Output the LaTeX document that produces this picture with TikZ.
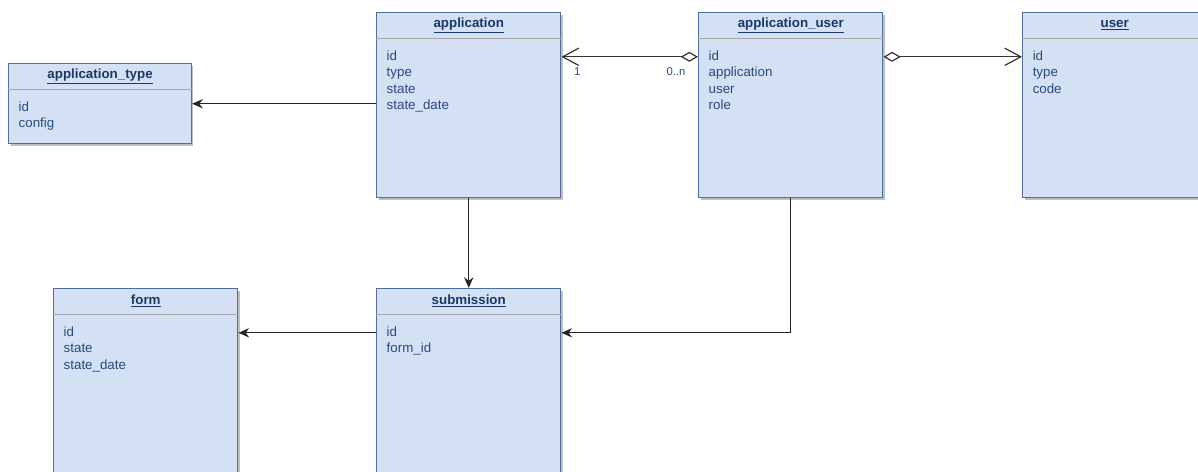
\documentclass[tikz,border=0pt]{standalone}
\usepackage{fontspec}
\setmainfont{Liberation Sans}
\usetikzlibrary{positioning, arrows.meta, shadows}

\definecolor{entityfill}{RGB}{212,225,245}
\definecolor{entityline}{RGB}{78,110,156}
\definecolor{titletext}{RGB}{26,56,104}
\definecolor{fieldtext}{RGB}{40,74,124}

\tikzset{
  entity/.style={draw=entityline, fill=entityfill, line width=1.1pt, anchor=north west,
    minimum width=138pt, inner sep=0pt,
    drop shadow={shadow xshift=1.5pt, shadow yshift=-1.5pt, fill=black, opacity=0.25}},
  entitytitle/.style={minimum width=138pt, minimum height=19.5pt, inner sep=0pt,
    text=titletext, font=\fontsize{10}{12}\selectfont\bfseries},
  headsep/.style={draw=black!35, line width=0.8pt},
  field/.style={text width=118pt, align=left, inner sep=0pt, text height=7.5pt,
    text depth=2.5pt, minimum height=12pt, text=fieldtext, font=\fontsize{10}{12}\selectfont},
  fk/.style={draw=black!85, line width=0.9pt, -{Stealth[length=8pt, width=7pt]}},
  assoc/.style={draw=black!80, line width=0.9pt,
    {Diamond[open, length=13pt, width=7.5pt]}-{Straight Barb[length=12pt, width=13pt]}},
  mult/.style={text=fieldtext, font=\fontsize{8.5}{10}\selectfont, inner sep=0pt}
}

\begin{document}
\begin{tikzpicture}[x=0.75pt, y=-0.75pt]
  \useasboundingbox (0,0) rectangle (1198,471);
  \clip (0,0) rectangle (1198,471);

  % tables
  \node[entity, minimum width=137pt, minimum height=60pt] (atype) at (8,63) {};
  \node[entitytitle, minimum width=137pt, below=0pt of atype.north] (atype-title) {\underline{application\_type}};
  \draw[headsep] (atype-title.south west) -- (atype-title.south east);
  \node[field, below right=7.5pt and 7.5pt of atype-title.south west] (atype-id) {id};
  \node[field, below=0pt of atype-id] (atype-config) {config};

  \node[entity, minimum height=138.75pt] (application) at (376,12) {};
  \node[entitytitle, below=0pt of application.north] (application-title) {\underline{application}};
  \draw[headsep] (application-title.south west) -- (application-title.south east);
  \node[field, below right=7.5pt and 7.5pt of application-title.south west] (application-id) {id};
  \node[field, below=0pt of application-id] (application-type) {type};
  \node[field, below=0pt of application-type] (application-state) {state};
  \node[field, below=0pt of application-state] (application-date) {state\_date};

  \node[entity, minimum height=138.75pt] (appuser) at (698,12) {};
  \node[entitytitle, below=0pt of appuser.north] (appuser-title) {\underline{application\_user}};
  \draw[headsep] (appuser-title.south west) -- (appuser-title.south east);
  \node[field, below right=7.5pt and 7.5pt of appuser-title.south west] (appuser-id) {id};
  \node[field, below=0pt of appuser-id] (appuser-application) {application};
  \node[field, below=0pt of appuser-application] (appuser-user) {user};
  \node[field, below=0pt of appuser-user] (appuser-role) {role};

  \node[entity, minimum height=138.75pt] (user) at (1022,12) {};
  \node[entitytitle, below=0pt of user.north] (user-title) {\underline{user}};
  \draw[headsep] (user-title.south west) -- (user-title.south east);
  \node[field, below right=7.5pt and 7.5pt of user-title.south west] (user-id) {id};
  \node[field, below=0pt of user-id] (user-type) {type};
  \node[field, below=0pt of user-type] (user-code) {code};

  \node[entity, minimum height=150pt] (form) at (53,288) {};
  \node[entitytitle, below=0pt of form.north] (form-title) {\underline{form}};
  \draw[headsep] (form-title.south west) -- (form-title.south east);
  \node[field, below right=7.5pt and 7.5pt of form-title.south west] (form-id) {id};
  \node[field, below=0pt of form-id] (form-state) {state};
  \node[field, below=0pt of form-state] (form-date) {state\_date};

  \node[entity, minimum height=150pt] (submission) at (376,288) {};
  \node[entitytitle, below=0pt of submission.north] (submission-title) {\underline{submission}};
  \draw[headsep] (submission-title.south west) -- (submission-title.south east);
  \node[field, below right=7.5pt and 7.5pt of submission-title.south west] (submission-id) {id};
  \node[field, below=0pt of submission-id] (submission-formid) {form\_id};

  % relations
  \draw[fk] (application.west |- atype.east) -- (atype.east);
  \draw[fk] (application.south) -- (submission.north);
  \draw[fk] (submission.west |- submission-id) -- (form.east |- submission-id);
  \draw[fk] (appuser.south) |- (submission.east |- submission-id);
  \draw[assoc] (appuser.west |- appuser-id) -- (application.east |- appuser-id)
    node[mult, pos=0, below left=8pt and 9pt] {0..n}
    node[mult, pos=1, below right=8pt and 9pt] {1};
  \draw[assoc] (appuser.east |- appuser-id) -- (user.west |- appuser-id);
\end{tikzpicture}
\end{document}
